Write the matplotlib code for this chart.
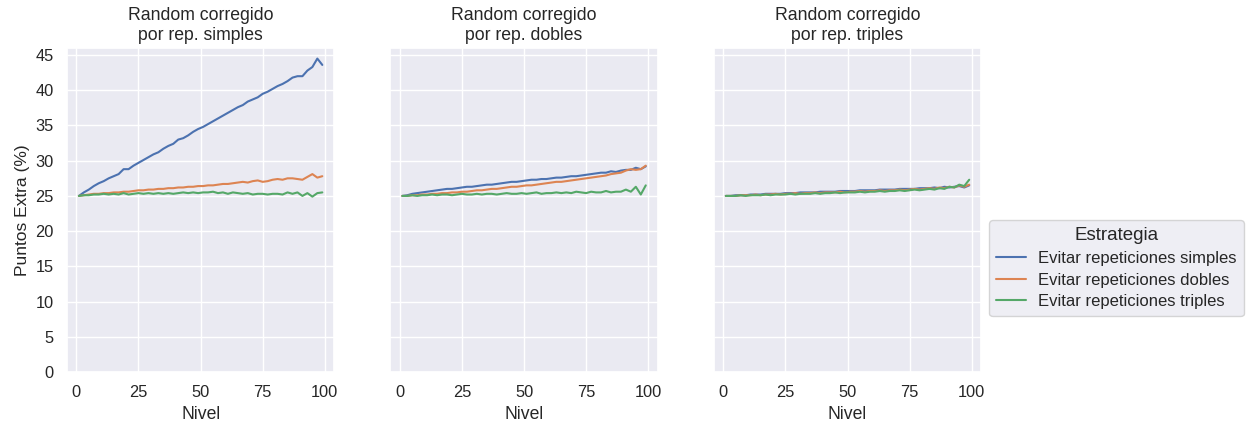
import matplotlib
matplotlib.use("Agg")
import matplotlib.pyplot as plt
import seaborn as sns
import numpy as np

niveles = list(range(1, 100, 2))

titulos = ["Random corregido\npor rep. simples",
           "Random corregido\npor rep. dobles",
           "Random corregido\npor rep. triples"]
estrategias = ["Evitar repeticiones simples",
               "Evitar repeticiones dobles",
               "Evitar repeticiones triples"]

# Panel 1: Random corregido por rep. simples
p1_simples = [25.0, 25.5, 25.9, 26.4, 26.8, 27.1, 27.5, 27.8, 28.1, 28.8, 28.8, 29.3, 29.7, 30.1, 30.5, 30.9, 31.2, 31.7, 32.1, 32.4,
              33.0, 33.2, 33.6, 34.1, 34.5, 34.8, 35.2, 35.6, 36.0, 36.4, 36.8, 37.2, 37.6, 37.9, 38.4, 38.7, 39.0, 39.5, 39.8, 40.2,
              40.6, 40.9, 41.3, 41.8, 42.0, 42.0, 42.8, 43.3, 44.5, 43.6]
p1_dobles = [25.0, 25.1, 25.2, 25.3, 25.3, 25.4, 25.4, 25.5, 25.5, 25.6, 25.6, 25.7, 25.8, 25.8, 25.9, 25.9, 26.0, 26.0, 26.1, 26.1,
             26.2, 26.2, 26.3, 26.3, 26.4, 26.4, 26.5, 26.5, 26.6, 26.7, 26.7, 26.8, 26.9, 27.0, 26.9, 27.1, 27.2, 27.0, 27.1, 27.3,
             27.4, 27.3, 27.5, 27.5, 27.4, 27.3, 27.7, 28.1, 27.6, 27.8]
p1_triples = [25.0, 25.1, 25.1, 25.2, 25.2, 25.3, 25.2, 25.3, 25.2, 25.4, 25.2, 25.3, 25.4, 25.3, 25.4, 25.3, 25.4, 25.3, 25.4, 25.3,
              25.4, 25.5, 25.4, 25.5, 25.4, 25.5, 25.5, 25.6, 25.4, 25.5, 25.3, 25.5, 25.4, 25.3, 25.4, 25.2, 25.3, 25.3, 25.2, 25.3,
              25.3, 25.2, 25.5, 25.3, 25.5, 25.0, 25.4, 24.9, 25.4, 25.5]

# Panel 2: Random corregido por rep. dobles
p2_simples = [25.0, 25.1, 25.3, 25.4, 25.5, 25.6, 25.7, 25.8, 25.9, 26.0, 26.0, 26.1, 26.2, 26.3, 26.3, 26.4, 26.5, 26.6, 26.6, 26.7,
              26.8, 26.9, 27.0, 27.0, 27.1, 27.2, 27.3, 27.3, 27.4, 27.4, 27.5, 27.6, 27.6, 27.7, 27.8, 27.8, 27.9, 28.0, 28.1, 28.2,
              28.3, 28.3, 28.5, 28.4, 28.6, 28.7, 28.7, 29.0, 28.8, 29.2]
p2_dobles = [25.0, 25.0, 25.1, 25.1, 25.2, 25.2, 25.3, 25.3, 25.4, 25.4, 25.5, 25.5, 25.6, 25.6, 25.7, 25.8, 25.8, 25.9, 26.0, 26.0,
             26.1, 26.2, 26.3, 26.3, 26.4, 26.5, 26.5, 26.6, 26.7, 26.8, 26.9, 27.0, 27.0, 27.1, 27.2, 27.3, 27.4, 27.5, 27.6, 27.7,
             27.8, 27.9, 28.1, 28.2, 28.3, 28.6, 28.8, 28.7, 28.8, 29.3]
p2_triples = [25.0, 25.0, 25.1, 25.0, 25.1, 25.1, 25.2, 25.1, 25.2, 25.2, 25.1, 25.2, 25.3, 25.2, 25.2, 25.3, 25.2, 25.3, 25.3, 25.2,
              25.3, 25.4, 25.3, 25.3, 25.4, 25.3, 25.4, 25.5, 25.3, 25.4, 25.4, 25.5, 25.4, 25.5, 25.4, 25.6, 25.5, 25.4, 25.6, 25.5,
              25.5, 25.7, 25.5, 25.6, 25.6, 25.9, 25.6, 26.3, 25.2, 26.5]

# Panel 3: Random corregido por rep. triples
p3_simples = [25.0, 25.0, 25.1, 25.1, 25.1, 25.2, 25.2, 25.2, 25.3, 25.3, 25.3, 25.3, 25.4, 25.4, 25.4, 25.5, 25.5, 25.5, 25.5, 25.6,
              25.6, 25.6, 25.6, 25.7, 25.7, 25.7, 25.7, 25.8, 25.8, 25.8, 25.8, 25.9, 25.9, 25.9, 25.9, 26.0, 26.0, 26.0, 26.0, 26.1,
              26.1, 26.1, 26.2, 26.1, 26.3, 26.2, 26.3, 26.4, 26.2, 26.5]
p3_dobles = [25.0, 25.0, 25.0, 25.1, 25.1, 25.1, 25.2, 25.1, 25.2, 25.2, 25.3, 25.2, 25.3, 25.3, 25.4, 25.3, 25.4, 25.4, 25.5, 25.4,
             25.5, 25.5, 25.5, 25.6, 25.5, 25.6, 25.6, 25.7, 25.6, 25.7, 25.7, 25.8, 25.7, 25.8, 25.8, 25.9, 25.8, 25.9, 26.0, 25.9,
             26.0, 26.1, 26.0, 26.2, 26.1, 26.3, 26.2, 26.5, 26.3, 26.6]
p3_triples = [25.0, 25.0, 25.0, 25.1, 25.0, 25.1, 25.1, 25.1, 25.2, 25.1, 25.2, 25.2, 25.2, 25.3, 25.2, 25.3, 25.3, 25.3, 25.4, 25.3,
              25.4, 25.4, 25.5, 25.4, 25.5, 25.5, 25.5, 25.6, 25.5, 25.6, 25.6, 25.7, 25.6, 25.7, 25.7, 25.8, 25.7, 25.8, 25.9, 25.8,
              25.9, 26.0, 25.9, 26.1, 26.0, 26.3, 26.2, 26.6, 26.4, 27.3]

paneles = [[p1_simples, p1_dobles, p1_triples],
           [p2_simples, p2_dobles, p2_triples],
           [p3_simples, p3_dobles, p3_triples]]

sns.set_theme(style="darkgrid", context="notebook")
plt.rcParams['font.family'] = ['Liberation Sans', 'DejaVu Sans']

colors = sns.color_palette("deep", 3)

fig, axes = plt.subplots(1, 3, figsize=(12.47, 4.25), dpi=100, sharey=True)
fig.subplots_adjust(left=0.0535, right=0.787, bottom=0.1247, top=0.887, wspace=0.208)

for ax, titulo, series in zip(axes, titulos, paneles):
    for serie, nombre, c in zip(series, estrategias, colors):
        ax.plot(niveles, serie, color=c, lw=1.5, label=nombre)
    ax.set_title(titulo, fontsize=12.7)
    ax.set_xlabel("Nivel", fontsize=12.7)
    ax.set_xticks([0, 25, 50, 75, 100])
    ax.set_yticks(range(0, 50, 5))
    ax.set_ylim(0, 46)
    ax.tick_params(labelsize=11.8)

axes[0].set_ylabel("Puntos Extra (%)", fontsize=12.5)

handles, labels = axes[0].get_legend_handles_labels()
leg = fig.legend(handles, labels, title="Estrategia", loc="center left",
                 bbox_to_anchor=(0.7935, 0.369), borderaxespad=0,
                 fontsize=12, title_fontsize=13.5,
                 frameon=True, labelspacing=0.4, handlelength=1.8,
                 borderpad=0.42, handletextpad=0.7)

fig.savefig("out.png", dpi=100)
